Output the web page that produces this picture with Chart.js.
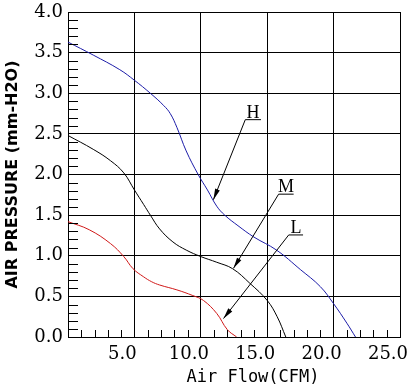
<!DOCTYPE html>
<html>
<head>
<meta charset="utf-8">
<script src="https://cdn.jsdelivr.net/npm/chart.js@4.4.0/dist/chart.umd.min.js"></script>
<style>
    html, body { margin: 0; padding: 0; background: #fff; }
    canvas { display: block; }
</style>
</head>
<body>
<canvas id="pqChart" width="413" height="387"></canvas>
<script>
// Kurva H (biru)
const hFlow = [0, 1.9, 3.9, 5.0, 6.2, 7.2, 7.7, 8.2, 8.9, 9.8, 10.5, 11.2, 11.8, 12.8, 14.0, 15.7, 17.5, 19.0, 20.0, 21.0, 21.65];
const hPressure = [3.63, 3.47, 3.29, 3.16, 3.0, 2.85, 2.75, 2.58, 2.29, 2.0, 1.81, 1.61, 1.50, 1.37, 1.23, 1.07, 0.83, 0.62, 0.41, 0.17, 0];

// Kurva M (hitam)
const mFlow = [0, 1.9, 3.2, 4.2, 5.0, 5.7, 6.2, 6.9, 7.9, 8.9, 10.0, 11.2, 12.4, 13.7, 15.0, 15.75, 16.4];
const mPressure = [2.48, 2.31, 2.17, 2.02, 1.81, 1.63, 1.50, 1.33, 1.17, 1.07, 0.99, 0.92, 0.84, 0.66, 0.45, 0.25, 0];

// Kurva L (merah)
const lFlow = [0, 1.6, 3.2, 4.2, 4.9, 5.7, 6.3, 6.9, 8.2, 9.4, 10.2, 11.2, 12.0, 12.7];
const lPressure = [1.42, 1.32, 1.15, 0.99, 0.84, 0.74, 0.68, 0.64, 0.58, 0.51, 0.45, 0.29, 0.09, 0];

// Label penunjuk H / M / L (dalam satuan data)
const noteLabels = ['H', 'M', 'L'];
const noteTipFlow = [10.95, 12.46, 11.71];
const noteTipPressure = [1.69, 0.845, 0.227];
const noteStartFlow = [13.35, 15.86, 16.62];
const noteEndFlow = [14.53, 16.99, 17.70];
const notePressure = [2.675, 1.758, 1.256];

// Tick minor
const minorFlowStep = 1;
const minorPressureStep = 0.1;

function toPoints(xs, ys) {
    return xs.map((x, i) => ({ x: x, y: ys[i] }));
}

// Plugin untuk tick minor, penunjuk dan judul sumbu x
const extrasPlugin = {
    id: 'extras',
    afterDraw(chart) {
        const ctx = chart.ctx;
        const xs = chart.scales.x;
        const ys = chart.scales.y;
        const area = chart.chartArea;

        ctx.save();
        ctx.strokeStyle = '#000';
        ctx.lineWidth = 1;

        // tick minor kiri
        for (let v = minorPressureStep; v < ys.max; v += minorPressureStep) {
            if (Math.abs(v / 0.5 - Math.round(v / 0.5)) < 1e-6) continue;
            const py = Math.round(ys.getPixelForValue(v)) + 0.5;
            ctx.beginPath();
            ctx.moveTo(area.left, py);
            ctx.lineTo(area.left + 10, py);
            ctx.stroke();
        }
        // tick minor bawah
        for (let v = minorFlowStep; v < xs.max; v += minorFlowStep) {
            if (v % 5 === 0) continue;
            const px = Math.round(xs.getPixelForValue(v)) + 0.5;
            ctx.beginPath();
            ctx.moveTo(px, area.bottom);
            ctx.lineTo(px, area.bottom - 7);
            ctx.stroke();
        }

        // penunjuk H, M, L
        ctx.fillStyle = '#000';
        ctx.font = '18px "Liberation Serif"';
        ctx.textAlign = 'center';
        ctx.textBaseline = 'alphabetic';
        noteLabels.forEach((lbl, i) => {
            const tx = xs.getPixelForValue(noteTipFlow[i]);
            const ty = ys.getPixelForValue(noteTipPressure[i]);
            const sx = xs.getPixelForValue(noteStartFlow[i]);
            const ex = xs.getPixelForValue(noteEndFlow[i]);
            const sy = ys.getPixelForValue(notePressure[i]);

            ctx.beginPath();
            ctx.moveTo(ex, sy);
            ctx.lineTo(sx, sy);
            ctx.lineTo(tx, ty);
            ctx.stroke();

            // kepala panah
            const ang = Math.atan2(ty - sy, tx - sx);
            const len = 11, half = 2.5;
            const bx = tx - len * Math.cos(ang);
            const by = ty - len * Math.sin(ang);
            ctx.beginPath();
            ctx.moveTo(tx, ty);
            ctx.lineTo(bx + half * Math.sin(ang), by - half * Math.cos(ang));
            ctx.lineTo(bx - half * Math.sin(ang), by + half * Math.cos(ang));
            ctx.closePath();
            ctx.fill();

            ctx.fillText(lbl, (sx + ex) / 2, sy - 2);
        });

        // judul sumbu x
        ctx.font = '17px "DejaVu Sans Mono"';
        ctx.textBaseline = 'alphabetic';
        ctx.fillText('Air Flow(CFM)', (area.left + area.right) / 2 + 19, 382);
        ctx.restore();
    }
};

const tickFont = { family: '"DejaVu Serif"', size: 18 };

const ctx = document.getElementById('pqChart').getContext('2d');
new Chart(ctx, {
    type: 'line',
    data: {
        datasets: [{
            label: 'H',
            data: toPoints(hFlow, hPressure),
            borderColor: '#1c1ca8',
            borderWidth: 1,
            pointRadius: 0,
            tension: 0.4
        }, {
            label: 'M',
            data: toPoints(mFlow, mPressure),
            borderColor: '#000000',
            borderWidth: 1,
            pointRadius: 0,
            tension: 0.4
        }, {
            label: 'L',
            data: toPoints(lFlow, lPressure),
            borderColor: '#d01818',
            borderWidth: 1,
            pointRadius: 0,
            tension: 0.4
        }]
    },
    options: {
        responsive: false,
        animation: false,
        layout: {
            padding: { top: 12, right: 13, left: 0, bottom: 0 }
        },
        plugins: {
            legend: { display: false },
            tooltip: { enabled: false }
        },
        scales: {
            x: {
                type: 'linear',
                min: 0,
                max: 25,
                afterFit: (scale) => {
                    scale.height = 50;
                    scale.paddingLeft = 0;
                    scale.paddingRight = 0;
                },
                ticks: {
                    stepSize: 5,
                    padding: 7,
                    labelOffset: -12,
                    color: '#000',
                    font: tickFont,
                    callback: (v) => v === 0 ? '' : v.toFixed(1)
                },
                grid: { color: '#000', lineWidth: 1, drawTicks: false },
                border: { color: '#000' }
            },
            y: {
                min: 0,
                max: 4,
                afterFit: (scale) => {
                    scale.width = 68;
                    scale.paddingTop = 0;
                    scale.paddingBottom = 0;
                },
                ticks: {
                    stepSize: 0.5,
                    padding: 5,
                    color: '#000',
                    font: tickFont,
                    callback: (v) => v.toFixed(1)
                },
                grid: { color: '#000', lineWidth: 1, drawTicks: false },
                border: { color: '#000' },
                title: {
                    display: true,
                    text: 'AIR PRESSURE (mm-H2O)',
                    color: '#000',
                    font: { family: '"DejaVu Sans"', size: 16, weight: 'bold' },
                    padding: { top: 3, bottom: 0 }
                }
            }
        }
    },
    plugins: [extrasPlugin]
});
</script>
</body>
</html>
